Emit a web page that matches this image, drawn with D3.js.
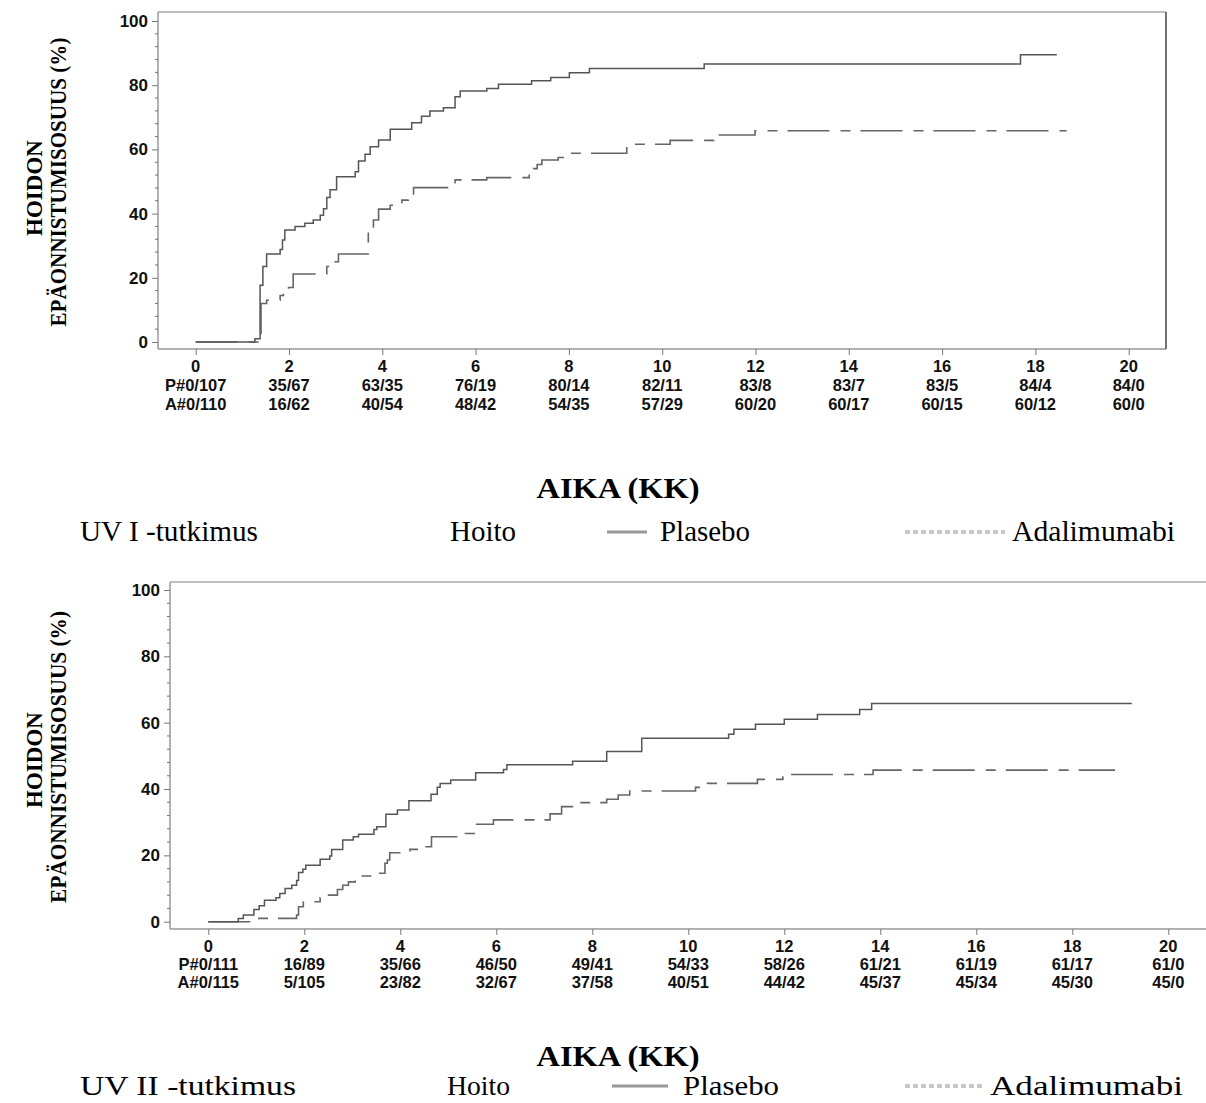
<!DOCTYPE html>
<html><head><meta charset="utf-8">
<script src="https://cdn.jsdelivr.net/npm/d3@7"></script>
<style>
html,body{margin:0;padding:0;background:#fff;}
svg{display:block;}
</style></head>
<body>
<svg id="c" width="1206" height="1103"></svg>
<script>
// ---------- DATA ----------
const xTicks = [0,2,4,6,8,10,12,14,16,18,20];
const yTicks = [0,20,40,60,80,100];

// UV I study
const uv1PlaT = [0,1.27,1.38,1.44,1.52,1.81,1.86,1.91,2.13,2.34,2.52,2.67,2.74,2.81,2.88,3.02,3.42,3.49,3.63,3.74,3.92,4.17,4.63,4.84,5.02,5.31,5.56,5.67,6.24,6.49,7.20,7.61,8.01,8.44,10.90,17.68,18.46];
const uv1PlaV = [0,1,17.7,23.5,27.4,28.8,31.8,34.9,36.0,37.0,38.0,39.5,41.5,45.0,47.4,51.5,53.0,56.4,58.5,60.8,62.9,66.3,68.3,70.3,72.0,73.0,76.4,78.2,79.0,80.3,81.4,82.4,83.9,85.2,86.6,89.5,89.5];
const uv1AdaT = [0,1.40,1.52,1.81,1.88,1.99,2.09,2.81,2.95,3.06,3.70,3.81,3.92,4.17,4.42,4.56,4.67,5.52,5.56,6.24,7.15,7.24,7.32,7.42,7.77,8.06,9.24,10.17,11.10,11.99,18.67];
const uv1AdaV = [0,12.0,13.0,14.5,15.7,17.0,21.2,23.5,25.0,27.4,34.9,38.0,41.4,42.6,44.2,45.3,48.1,49.6,50.5,51.2,52.5,54.0,55.3,56.7,57.5,58.8,61.6,62.8,64.5,65.8,65.8];
const uv1RiskP = ["P#0/107","35/67","63/35","76/19","80/14","82/11","83/8","83/7","83/5","84/4","84/0"];
const uv1RiskA = ["A#0/110","16/62","40/54","48/42","54/35","57/29","60/20","60/17","60/15","60/12","60/0"];

// UV II study
const uv2PlaT = [0,0.625,0.73,0.95,1.06,1.17,1.41,1.49,1.60,1.74,1.84,1.88,1.97,2.03,2.33,2.53,2.57,2.80,3.02,3.13,3.45,3.51,3.70,3.94,4.18,4.64,4.77,4.83,5.05,5.57,6.15,6.22,7.59,8.30,9.03,10.84,10.95,11.40,12.00,12.69,13.57,13.82,19.24];
const uv2PlaV = [0,1.0,2.0,3.7,4.8,6.5,7.2,8.5,10.0,11.0,12.4,14.8,15.8,17.0,18.8,19.8,21.8,24.6,25.6,26.4,27.8,28.6,32.4,33.7,36.5,38.4,40.5,41.7,42.7,44.9,45.9,47.3,48.4,51.3,55.3,56.5,58.0,59.5,61.0,62.5,64.0,65.8,65.8];
const uv2AdaT = [0,0.95,1.84,1.88,1.98,2.33,2.47,2.69,2.80,2.92,3.06,3.51,3.68,3.73,3.78,3.99,4.20,4.42,4.65,5.35,5.56,5.94,7.12,7.36,7.71,8.30,8.54,8.78,10.15,10.40,11.44,11.97,13.85,18.89];
const uv2AdaV = [0,1.0,2.0,4.5,6.0,7.2,8.0,9.7,11.0,12.0,13.8,14.6,17.6,18.6,20.8,21.3,21.8,22.6,25.6,26.6,29.4,30.7,32.5,34.7,35.9,36.9,38.2,39.4,40.5,41.7,42.9,44.4,45.7,45.7];
const uv2RiskP = ["P#0/111","16/89","35/66","46/50","49/41","54/33","58/26","61/21","61/19","61/17","61/0"];
const uv2RiskA = ["A#0/115","5/105","23/82","32/67","37/58","40/51","44/42","45/37","45/34","45/30","45/0"];

const yTitle1 = "HOIDON";
const yTitle2 = "EPÄONNISTUMISOSUUS (%)";
const xTitle = "AIKA (KK)";
const legendHead = "Hoito";
const legendNames = ["Plasebo","Adalimumabi"];
const studyNames = ["UV I -tutkimus","UV II -tutkimus"];

// ---------- DRAW ----------
const svg = d3.select("#c");
const SANS = "'Liberation Sans', Arial, Helvetica, sans-serif";
const SERIF = "'Liberation Serif', 'Times New Roman', serif";

function zip(T,V){ return T.map((t,i)=>({t:t,v:V[i]})); }

function fitText(sel, len){
  sel.attr("textLength",len).attr("lengthAdjust","spacingAndGlyphs");
}

function drawChart(cfg){
  const g = svg.append("g");
  const x = d3.scaleLinear().domain([0,20]).range([cfg.x0, cfg.x20]);
  const y = d3.scaleLinear().domain([0,100]).range([cfg.y0, cfg.y100]);

  // frame
  g.append("line").attr("x1",cfg.fl).attr("x2",cfg.fr).attr("y1",cfg.ft).attr("y2",cfg.ft)
    .attr("stroke","#aaa").attr("stroke-width",1.5);
  g.append("line").attr("x1",cfg.fl).attr("x2",cfg.fl).attr("y1",cfg.ft).attr("y2",cfg.fb)
    .attr("stroke","#999").attr("stroke-width",1.5);
  g.append("line").attr("x1",cfg.fl).attr("x2",cfg.fr).attr("y1",cfg.fb).attr("y2",cfg.fb)
    .attr("stroke","#999").attr("stroke-width",1.5);
  if(cfg.rightBorder){
    g.append("line").attr("x1",cfg.fr).attr("x2",cfg.fr).attr("y1",cfg.ft).attr("y2",cfg.fb)
      .attr("stroke","#444").attr("stroke-width",1.5);
  }

  // y axis
  const ya = g.append("g").attr("transform",`translate(${cfg.fl},0)`)
    .call(d3.axisLeft(y).tickValues(yTicks).tickSize(6).tickPadding(4));
  ya.select(".domain").remove();
  ya.selectAll(".tick line").attr("stroke","#777");
  ya.selectAll(".tick text").attr("font-family",SANS).attr("font-weight","bold")
    .attr("font-size",cfg.fs+0.5).attr("fill","#111");
  const minor = d3.range(0,101,4).filter(v=>v%20!==0);
  g.append("g").selectAll("line").data(minor).join("line")
    .attr("x1",cfg.fl-3).attr("x2",cfg.fl).attr("y1",d=>y(d)).attr("y2",d=>y(d))
    .attr("stroke","#8a6a6a").attr("stroke-width",1);

  // x axis
  const xa = g.append("g").attr("transform",`translate(0,${cfg.fb})`)
    .call(d3.axisBottom(x).tickValues(xTicks).tickSize(6).tickFormat(""));
  xa.select(".domain").remove();
  xa.selectAll(".tick line").attr("stroke","#777");
  g.append("g").selectAll("text").data(xTicks).join("text")
    .attr("x",d=>x(d)).attr("y",cfg.tickBase).attr("text-anchor","middle")
    .attr("font-family",SANS).attr("font-weight","bold").attr("font-size",cfg.fs).attr("fill","#111")
    .text(d=>d);
  g.append("g").selectAll("text").data(cfg.riskP).join("text")
    .attr("x",(d,i)=>x(xTicks[i])).attr("y",cfg.pBase).attr("text-anchor","middle")
    .attr("font-family",SANS).attr("font-weight","bold").attr("font-size",cfg.fs).attr("fill","#111")
    .text(d=>d);
  g.append("g").selectAll("text").data(cfg.riskA).join("text")
    .attr("x",(d,i)=>x(xTicks[i])).attr("y",cfg.aBase).attr("text-anchor","middle")
    .attr("font-family",SANS).attr("font-weight","bold").attr("font-size",cfg.fs).attr("fill","#111")
    .text(d=>d);

  // curves
  const line = d3.line().x(d=>x(d.t)).y(d=>y(d.v)).curve(d3.curveStepAfter);
  g.append("path").datum(zip(cfg.adaT,cfg.adaV)).attr("d",line)
    .attr("fill","none").attr("stroke","#666").attr("stroke-width",1.6)
    .attr("stroke-dasharray","42 11 10 10");
  g.append("path").datum(zip(cfg.plaT,cfg.plaV)).attr("d",line)
    .attr("fill","none").attr("stroke","#555").attr("stroke-width",1.5);

  // y title
  g.append("text").attr("transform",`translate(${cfg.yt1x},${cfg.yt1c}) rotate(-90)`)
    .attr("text-anchor","middle").attr("font-family",SERIF).attr("font-weight","bold")
    .attr("font-size",23).attr("fill","#000").text(yTitle1);
  fitText(g.append("text").attr("transform",`translate(${cfg.yt2x},${cfg.yt2c}) rotate(-90)`)
    .attr("text-anchor","middle").attr("font-family",SERIF).attr("font-weight","bold")
    .attr("font-size",23).attr("fill","#000").text(yTitle2), cfg.yt2len);

  // x title
  fitText(g.append("text").attr("x",618).attr("y",cfg.xtBase).attr("text-anchor","middle")
    .attr("font-family",SERIF).attr("font-weight","bold").attr("font-size",cfg.xtfs).attr("fill","#000")
    .text(xTitle), cfg.xtLen);

  // legend
  const lg = g.append("g").attr("font-family",SERIF).attr("font-size",cfg.lgfs).attr("fill","#000");
  fitText(lg.append("text").attr("x",80).attr("y",cfg.lgBase).text(cfg.study), cfg.lens[0]);
  fitText(lg.append("text").attr("x",cfg.hoitoX).attr("y",cfg.lgBase).text(legendHead), cfg.lens[1]);
  lg.append("line").attr("x1",cfg.plX1).attr("x2",cfg.plX2).attr("y1",cfg.lgBase-9).attr("y2",cfg.lgBase-9)
    .attr("stroke","#999").attr("stroke-width",3);
  fitText(lg.append("text").attr("x",cfg.plTx).attr("y",cfg.lgBase).text(legendNames[0]), cfg.lens[2]);
  lg.append("line").attr("x1",cfg.adX1).attr("x2",cfg.adX2).attr("y1",cfg.lgBase-9).attr("y2",cfg.lgBase-9)
    .attr("stroke","#c8c8c8").attr("stroke-width",4).attr("stroke-dasharray","5 3");
  fitText(lg.append("text").attr("x",cfg.adTx).attr("y",cfg.lgBase).text(legendNames[1]), cfg.lens[3]);
}

drawChart({
  fl:158, fr:1166, ft:12, fb:349, rightBorder:true,
  x0:195.7, x20:1128.7, y0:342, y100:21,
  fs:16.5, tickBase:372, pBase:391, aBase:410,
  plaT:uv1PlaT, plaV:uv1PlaV, adaT:uv1AdaT, adaV:uv1AdaV,
  riskP:uv1RiskP, riskA:uv1RiskA,
  yt1x:42, yt1c:188, yt2x:66, yt2c:182, yt2len:289,
  xtBase:498, xtfs:30, xtLen:163,
  lgBase:541, lgfs:29, lens:[178,66,90,163], study:studyNames[0],
  hoitoX:450, plX1:607, plX2:647, plTx:660, adX1:905, adX2:1005, adTx:1012
});
drawChart({
  fl:170, fr:1212, ft:582, fb:929, rightBorder:false,
  x0:208.3, x20:1168.3, y0:921.7, y100:590,
  fs:16.5, tickBase:952, pBase:970, aBase:988,
  plaT:uv2PlaT, plaV:uv2PlaV, adaT:uv2AdaT, adaV:uv2AdaV,
  riskP:uv2RiskP, riskA:uv2RiskA,
  yt1x:42, yt1c:760, yt2x:66, yt2c:757, yt2len:292,
  xtBase:1066, xtfs:30, xtLen:163,
  lgBase:1095, lgfs:27, lens:[216,63,96,193], study:studyNames[1],
  hoitoX:447, plX1:612, plX2:668, plTx:683, adX1:905, adX2:985, adTx:990
});
</script>
</body></html>
